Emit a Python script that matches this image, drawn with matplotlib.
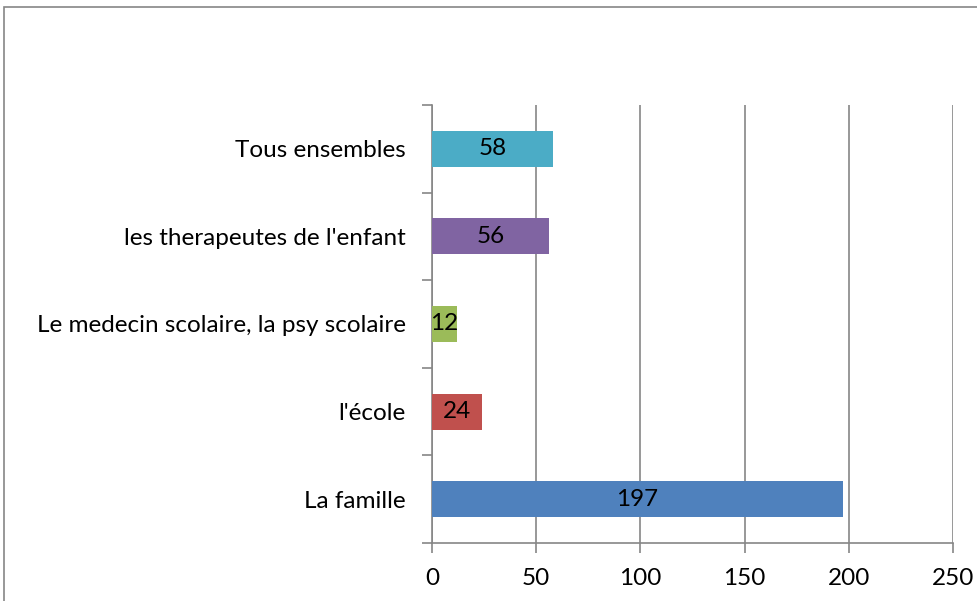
import matplotlib.pyplot as plt
from matplotlib.patches import Rectangle

categories = ["La famille", "l'école", "Le medecin scolaire, la psy scolaire",
              "les therapeutes de l'enfant", "Tous ensembles"]
values = [197, 24, 12, 56, 58]
colors = ["#4F81BD", "#C0504D", "#9BBB59", "#8064A2", "#4BACC6"]
xticks = [0, 50, 100, 150, 200, 250]

plt.rcParams["font.family"] = ["Lato", "DejaVu Sans"]

fig = plt.figure(figsize=(9.78, 6.01), dpi=100)
ax = fig.add_axes([432/978, 1 - 543/601, 521/978, 438/601])

# cadre extérieur
fig.patches.append(Rectangle((4/978, -0.1), 1.1, 1 - 7/601 + 0.1,
                             transform=fig.transFigure, fill=False,
                             edgecolor="#868686", linewidth=1.2))

ypos = list(range(len(categories)))
ax.barh(ypos, values, height=0.41, color=colors, zorder=3)
for y, v in zip(ypos, values):
    ax.text(v / 2, y, str(v), ha="center", va="center", fontsize=17.5,
            color="black", zorder=4)

ax.set_xlim(0, 250)
ax.set_ylim(-0.5, len(categories) - 0.5)
ax.set_xticks(xticks)
ax.set_yticks([y - 0.5 for y in range(len(categories) + 1)], minor=False)
ax.set_yticklabels([])
ax.set_yticks(ypos, minor=True)
ax.set_yticklabels(categories, minor=True)
ax.tick_params(axis="y", which="minor", length=0, pad=19, labelsize=17.5)
ax.tick_params(axis="y", which="major", length=7, width=1.2, color="#868686")
ax.tick_params(axis="x", length=7, width=1.2, color="#868686", pad=11,
               labelsize=17.5)
ax.grid(axis="x", color="#868686", linewidth=1.2, zorder=0)
for side in ["top", "right"]:
    ax.spines[side].set_visible(False)
for side in ["left", "bottom"]:
    ax.spines[side].set_color("#868686")
    ax.spines[side].set_linewidth(1.2)

fig.savefig("out.png", dpi=100)
